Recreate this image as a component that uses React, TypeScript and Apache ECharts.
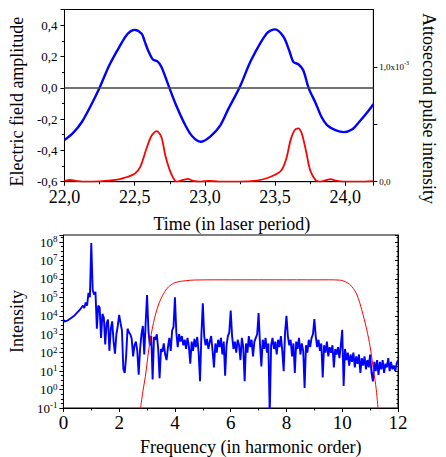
import React, { useEffect, useRef } from "react";
import * as echarts from "echarts";

// ---- Top panel: electric field (left axis) and attosecond pulse (right axis, x10^-3)
const fieldTime = [22.0, 22.06, 22.125, 22.19, 22.25, 22.32, 22.39, 22.45, 22.5, 22.55, 22.57, 22.595, 22.63, 22.66, 22.69, 22.74, 22.79, 22.86, 22.91, 22.97, 23.04, 23.11, 23.17, 23.246, 23.33, 23.44, 23.5, 23.56, 23.6, 23.63, 23.666, 23.7, 23.74, 23.79, 23.83, 23.87, 23.93, 23.99, 24.05, 24.1, 24.16, 24.2];
const fieldValue = [-0.334, -0.29, -0.217, -0.11, 0.0, 0.145, 0.26, 0.345, 0.37, 0.345, 0.3, 0.24, 0.18, 0.17, 0.135, 0.017, -0.1, -0.238, -0.31, -0.345, -0.31, -0.24, -0.13, 0.0, 0.177, 0.347, 0.373, 0.326, 0.24, 0.166, 0.15, 0.113, -0.004, -0.1, -0.185, -0.238, -0.27, -0.283, -0.265, -0.217, -0.153, -0.105];

const pulseTime = [22.0, 22.04, 22.08, 22.15, 22.25, 22.365, 22.43, 22.5, 22.54, 22.58, 22.62, 22.656, 22.69, 22.72, 22.76, 22.8, 22.846, 22.88, 22.91, 22.97, 23.03, 23.1, 23.25, 23.37, 23.44, 23.5, 23.545, 23.58, 23.61, 23.64, 23.666, 23.69, 23.72, 23.75, 23.79, 23.82, 23.87, 23.895, 23.93, 23.99, 24.1, 24.2];
const pulseValue = [0.005, 0.015, 0.008, 0.0, 0.003, 0.015, 0.035, 0.07, 0.13, 0.274, 0.4, 0.44, 0.39, 0.22, 0.07, 0.0, 0.015, 0.025, 0.01, 0.0, 0.008, 0.0, 0.0, 0.01, 0.03, 0.06, 0.1, 0.2, 0.36, 0.45, 0.465, 0.42, 0.27, 0.1, 0.012, 0.0, 0.015, 0.023, 0.01, 0.0, 0.0, 0.005];

// ---- Bottom panel: spectrum (log10 of intensity), sampled every 0.05 harmonic order from 0 to 12
const spectrumStep = 0.05;
const spectrumLog10 = [
  3.78, 3.68, 3.72, 3.74, 3.8, 3.85, 3.9, 3.96, 4.02, 4.1, 4.18, 4.26, 4.35, 4.45, 4.55, 4.42, 4.72, 4.55, 5.25, 5.0,
  7.95, 5.4, 5.15, 5.3, 3.3, 4.55, 4.45, 2.8, 4.1, 3.9, 2.45, 3.6, 3.8, 2.1, 3.3, 3.7, 2.6, 1.95, 3.0, 3.45,
  4.05, 3.6, 3.2, 1.1, 0.9, 1.8, 3.3, 3.1, 3.0, 2.75, 1.8, 2.4, 2.6, 2.1, 0.8, 2.2, 3.0, 3.45, 1.9, 3.6,
  5.13, 3.2, 2.4, 2.9, 0.55, 2.85, 2.7, 3.0, 2.2, 0.62, 2.2, 2.05, 2.5, 1.9, 1.6, 2.3, 2.8, 2.1, 3.2, 3.4,
  5.0, 3.1, 2.3, 3.0, 2.6, 2.9, 2.4, 2.7, 2.2, 2.8, 2.35, 1.4, 2.6, 2.1, 2.75, 2.3, 2.85, 2.0, 0.45, 3.0,
  4.68, 2.9, 2.4, 2.75, 2.2, 2.6, 2.9, 2.1, 1.2, 2.5, 2.0, 2.7, 2.3, 2.8, 1.9, 2.6, 0.75, 2.4, 2.9, 3.1,
  4.28, 2.9, 2.2, 2.6, 2.0, 2.7, 2.4, 1.6, 2.8, 2.3, 0.45, 2.5, 2.0, 2.9, 2.3, 2.7, 1.8, 2.6, 2.8, 3.0,
  4.15, 2.5, 1.25, 2.7, 2.2, 2.8, 2.0, 2.5, -1.3, 2.4, 2.8, 2.2, 2.6, 1.9, 2.7, 2.3, 2.9, 2.1, 1.0, 3.1,
  4.0, 2.9, 2.4, 2.7, 1.8, 2.5, 0.9, 2.6, 2.2, 2.8, 1.9, 2.5, 2.1, 0.08, 2.4, 2.0, 2.7, 2.3, 2.8, 3.0,
  3.82, 2.9, 2.3, 2.7, 2.1, 2.5, 0.65, 2.4, 2.0, 2.6, 1.8, 2.3, 2.0, 2.4, 1.2, 2.2, 1.9, 2.3, 1.7, 2.4,
  3.24, 0.2, 2.2, 1.6, 2.0, 1.3, 1.9, 1.5, 2.0, 1.2, 1.8, 1.4, 1.9, 0.9, 1.7, 1.3, 1.8, 1.1, 1.6, 1.2,
  1.9, 0.9, 0.44, 1.5, 1.0, 1.6, 0.8, 1.5, 1.1, 1.6, 0.9, 1.4, 1.2, 1.7, 1.0, 1.5, 1.1, 1.3, 1.0, 1.4,
  1.6,
];

const filterFreq = [2.76, 2.85, 2.94, 3.06, 3.18, 3.3, 3.42, 3.6, 3.78, 4.01, 4.37, 4.73, 6.0, 8.0, 9.5, 9.93, 10.17, 10.35, 10.53, 10.7, 10.88, 11.0, 11.12, 11.22, 11.3];
const filterLog10 = [-1.1, -0.1, 0.71, 2.15, 3.24, 4.05, 4.64, 5.22, 5.58, 5.8, 5.9, 5.94, 5.95, 5.95, 5.95, 5.93, 5.8, 5.58, 5.13, 4.32, 3.24, 2.33, 1.07, 0.0, -1.3];

const FONT = "Liberation Serif";
const comma = (v: number) => Number(v).toFixed(1).replace(".", ",");

export default function App() {
  const ref = useRef<HTMLDivElement>(null);
  useEffect(() => {
    if (!ref.current) return;
    const chart = echarts.init(ref.current, undefined, { renderer: "svg" });
    const axisLine = { show: true, onZero: false, lineStyle: { color: "#000", width: 1 } };
    const tick = { show: true, length: 4, lineStyle: { color: "#000" } };
    const minor = { show: true, splitNumber: 2, length: 2.5, lineStyle: { color: "#000" } };
    const lab = (size: number) => ({ fontSize: size, fontFamily: FONT, color: "#000" });
    const option: any = {
      animation: false,
      textStyle: { fontFamily: FONT, color: "#000" },
      grid: [
        { left: 61, top: 9.5, width: 335, height: 172.2, show: true, borderColor: "#000", borderWidth: 1, backgroundColor: "transparent" },
        { left: 63, top: 235, width: 335, height: 173.3, show: true, borderColor: "#000", borderWidth: 1, backgroundColor: "transparent" },
      ],
      xAxis: [
        {
          type: "value", gridIndex: 0, min: 22, max: 24.2, interval: 0.5,
          axisLine, axisTick: tick, minorTick: minor, splitLine: { show: false },
          axisLabel: { ...lab(18), margin: 6, showMaxLabel: false, formatter: (v: number) => comma(v) },
          name: "Time (in laser period)", nameLocation: "middle", nameGap: 33,
          nameTextStyle: { ...lab(18), padding: [0, 0, 0, 26] },
        },
        {
          type: "value", gridIndex: 1, min: 0, max: 12, interval: 2,
          axisLine, axisTick: tick, minorTick: minor, splitLine: { show: false },
          axisLabel: { ...lab(19), margin: 5 },
          name: "Frequency (in harmonic order)", nameLocation: "middle", nameGap: 30,
          nameTextStyle: { ...lab(18), padding: [0, 0, 0, 40] },
        },
      ],
      yAxis: [
        {
          type: "value", gridIndex: 0, position: "left", min: -0.6, max: 0.5, interval: 0.2,
          axisLine, axisTick: tick, minorTick: minor, splitLine: { show: false },
          axisLabel: { ...lab(13), margin: 7, showMaxLabel: false, formatter: (v: number) => comma(v) },
          name: "Electric field amplitude", nameLocation: "middle", nameRotate: 90, nameGap: 25,
          nameTextStyle: { ...lab(18), padding: [0, 12, 0, 0] },
        },
        {
          type: "value", gridIndex: 0, position: "right", min: 0, max: 1.5, interval: 0.5,
          axisLine, axisTick: tick, splitLine: { show: false },
          axisLabel: {
            ...lab(9), margin: 6, showMaxLabel: false,
            formatter: (v: number) => (Math.abs(v) < 1e-9 ? "{b|0,0}" : Math.abs(v - 1) < 1e-9 ? "{b|1,0x10}{s|-3}" : ""),
            rich: { b: lab(9), s: { ...lab(6), verticalAlign: "bottom", padding: [0, 0, 7, 0] } },
          },
          name: "Attosecond pulse intensity", nameLocation: "middle", nameRotate: -90, nameGap: 38,
          nameTextStyle: { ...lab(18), padding: [0, 0, 0, 26] },
        },
        {
          type: "value", gridIndex: 1, position: "left", min: -1, max: 8.38, interval: 1,
          axisLine, axisTick: tick, minorTick: { show: true, splitNumber: 4, length: 2.5, lineStyle: { color: "#000" } }, splitLine: { show: false },
          axisLabel: {
            ...lab(13), margin: 6, showMaxLabel: false,
            formatter: (v: number) => "{b|10}{s|" + Math.round(v) + "}",
            rich: { b: lab(13), s: { ...lab(9), verticalAlign: "bottom", padding: [0, 0, 6, 0] } },
          },
          name: "Intensity", nameLocation: "middle", nameRotate: 90, nameGap: 25,
          nameTextStyle: lab(18),
        },
        {
          type: "value", gridIndex: 1, position: "right", min: -1, max: 8.38, interval: 1,
          axisLine, axisTick: { show: true, inside: true, length: 3, lineStyle: { color: "#000" } },
          minorTick: { show: true, splitNumber: 4, length: 1.5, lineStyle: { color: "#000" } },
          splitLine: { show: false }, axisLabel: { show: false },
        },
      ],
      series: [
        {
          type: "line", xAxisIndex: 0, yAxisIndex: 0, showSymbol: false, smooth: 0.3,
          data: fieldTime.map((t, i) => [t, fieldValue[i]]),
          lineStyle: { color: "#0000ff", width: 2.4 }, itemStyle: { color: "#0000ff" },
          markLine: {
            silent: true, symbol: ["none", "none"], label: { show: false },
            lineStyle: { color: "#444", width: 1.5, type: "solid" },
            data: [{ yAxis: 0 }],
          },
        },
        {
          type: "line", xAxisIndex: 0, yAxisIndex: 1, showSymbol: false, smooth: 0.3,
          data: pulseTime.map((t, i) => [t, pulseValue[i]]),
          lineStyle: { color: "#ff0000", width: 1.8 }, itemStyle: { color: "#ff0000" },
        },
        {
          type: "line", xAxisIndex: 1, yAxisIndex: 2, showSymbol: false, clip: true,
          data: spectrumLog10.map((e, i) => [+(i * spectrumStep).toFixed(2), e]),
          lineStyle: { color: "#0000ff", width: 1.9 }, itemStyle: { color: "#0000ff" },
        },
        {
          type: "line", xAxisIndex: 1, yAxisIndex: 2, showSymbol: false, smooth: 0.3, clip: true,
          data: filterFreq.map((f, i) => [f, filterLog10[i]]),
          lineStyle: { color: "#ff0000", width: 1 }, itemStyle: { color: "#ff0000" },
        },
      ],
    };
    chart.setOption(option);
    return () => chart.dispose();
  }, []);
  return <div ref={ref} style={{ position: "absolute", left: 0, top: 0, width: 446, height: 457, background: "#fff" }} />;
}
